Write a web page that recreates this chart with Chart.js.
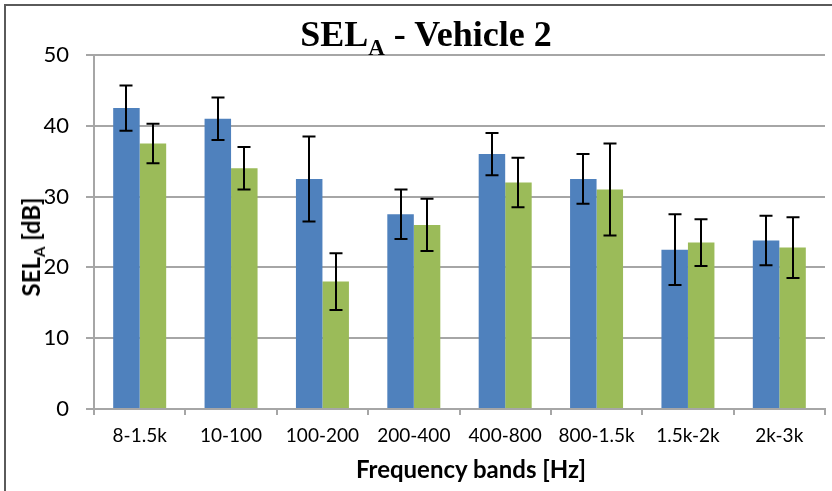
<!DOCTYPE html>
<html>
<head>
<meta charset="utf-8">
<script src="https://cdn.jsdelivr.net/npm/chart.js@4.4.1/dist/chart.umd.min.js"></script>
<style>
    html, body { margin: 0; padding: 0; background: #fff; }
    #wrap { position: relative; width: 832px; height: 491px; overflow: hidden; }
    #frame {
        position: absolute; left: 4px; top: 4px; right: -10px; bottom: -10px;
        border-left: 2px solid #5a5a5a; border-top: 2px solid #5a5a5a;
        pointer-events: none;
    }
    #title {
        position: absolute; left: 0; width: 852px; top: 14px; text-align: center;
        font: bold 36px "Liberation Serif", serif; line-height: 40px; color: #000;
    }
    #title sub { font-size: 23px; vertical-align: -9px; line-height: 0; }
    #ytitle {
        position: absolute; left: 31px; top: 247px; white-space: nowrap;
        transform: translate(-50%, -50%) rotate(-90deg);
        font: bold 24px Lato, sans-serif; line-height: 28px; color: #000;
    }
    #ytitle sub { font-size: 15px; vertical-align: -5px; line-height: 0; }
    #xtitle {
        position: absolute; left: 271px; width: 400px; top: 455px; text-align: center;
        font: bold 24px Lato, sans-serif; line-height: 28px; color: #000;
    }
</style>
</head>
<body>
<div id="wrap">
    <canvas id="chart" width="832" height="491"></canvas>
    <div id="title">SEL<sub>A</sub> - Vehicle 2</div>
    <div id="ytitle">SEL<sub>A</sub> [dB]</div>
    <div id="xtitle">Frequency bands [Hz]</div>
    <div id="frame"></div>
</div>
<script>
// wartości (SEL_A w dB, słupki błędu +/-)
const bands = ['8-1.5k', '10-100', '100-200', '200-400', '400-800', '800-1.5k', '1.5k-2k', '2k-3k'];
const blueValues = [42.5, 41.0, 32.5, 27.5, 36.0, 32.5, 22.5, 23.8];
const blueErrors = [3.2, 3.0, 6.0, 3.5, 3.0, 3.5, 5.0, 3.5];
const greenValues = [37.5, 34.0, 18.0, 26.0, 32.0, 31.0, 23.5, 22.8];
const greenErrors = [2.8, 3.0, 4.0, 3.7, 3.5, 6.5, 3.3, 4.3];

const COLORS = {
    blue: '#4f81bd',
    green: '#9bbb59',
    grid: '#a6a6a6',
};

// rysuje słupki błędu nad każdym słupkiem
const errorBars = {
    id: 'errorBars',
    afterDatasetsDraw(chart) {
        const { ctx } = chart;
        const yScale = chart.scales.y;
        ctx.save();
        ctx.strokeStyle = '#000';
        ctx.lineWidth = 2;
        chart.data.datasets.forEach((ds, di) => {
            const meta = chart.getDatasetMeta(di);
            meta.data.forEach((bar, i) => {
                const v = ds.data[i];
                const e = ds.errors[i];
                const top = yScale.getPixelForValue(v + e);
                const bottom = yScale.getPixelForValue(v - e);
                const x = Math.round(bar.x);
                ctx.beginPath();
                ctx.moveTo(x, top);
                ctx.lineTo(x, bottom);
                ctx.moveTo(x - 6.5, top);
                ctx.lineTo(x + 6.5, top);
                ctx.moveTo(x - 6.5, bottom);
                ctx.lineTo(x + 6.5, bottom);
                ctx.stroke();
            });
        });
        ctx.restore();
    },
};

new Chart(document.getElementById('chart'), {
    type: 'bar',
    data: {
        labels: bands,
        datasets: [
            { label: 'Series 1', data: blueValues, errors: blueErrors, backgroundColor: COLORS.blue },
            { label: 'Series 2', data: greenValues, errors: greenErrors, backgroundColor: COLORS.green },
        ],
    },
    options: {
        responsive: false,
        animation: false,
        layout: { padding: { top: 55, right: 7, left: 0, bottom: 0 } },
        datasets: { bar: { barPercentage: 1, categoryPercentage: 0.58 } },
        scales: {
            x: {
                afterFit: (scale) => { scale.height = 82; },
                grid: { drawOnChartArea: false, drawTicks: true, tickLength: 6, color: COLORS.grid, lineWidth: 2 },
                border: { color: COLORS.grid, width: 2 },
                ticks: { color: '#000', padding: 9, maxRotation: 0, font: { family: 'Lato', size: 19 } },
            },
            y: {
                min: 0,
                max: 50,
                afterFit: (scale) => { scale.width = 94; },
                grid: { color: COLORS.grid, lineWidth: 2, tickLength: 8 },
                border: { color: COLORS.grid, width: 2 },
                ticks: { stepSize: 10, color: '#000', padding: 17, font: { family: 'Lato', size: 22 } },
            },
        },
        plugins: { legend: { display: false }, tooltip: { enabled: false } },
    },
    plugins: [errorBars],
});
</script>
</body>
</html>
